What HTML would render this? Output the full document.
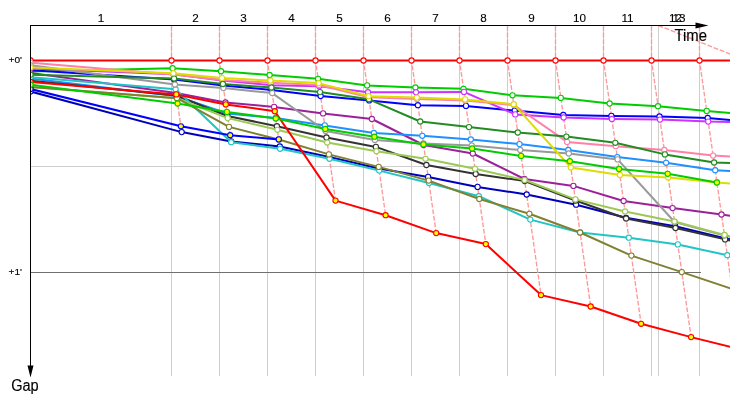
<!DOCTYPE html>
<html><head><meta charset="utf-8"><title>Gap chart</title>
<style>
html,body{margin:0;padding:0;background:#fff;}
svg{display:block}
text{font-family:"Liberation Sans",sans-serif;fill:#000}
</style></head><body>
<svg width="730" height="400" viewBox="0 0 730 400">
<rect width="730" height="400" fill="#fff"/>

<g stroke="#cfcfcf" stroke-width="1" shape-rendering="crispEdges">
<line x1="171.5" y1="26" x2="171.5" y2="376"/>
<line x1="219.5" y1="26" x2="219.5" y2="376"/>
<line x1="267.5" y1="26" x2="267.5" y2="376"/>
<line x1="315.5" y1="26" x2="315.5" y2="376"/>
<line x1="363.5" y1="26" x2="363.5" y2="376"/>
<line x1="411.5" y1="26" x2="411.5" y2="376"/>
<line x1="459.5" y1="26" x2="459.5" y2="376"/>
<line x1="507.5" y1="26" x2="507.5" y2="376"/>
<line x1="555.5" y1="26" x2="555.5" y2="376"/>
<line x1="603.5" y1="26" x2="603.5" y2="376"/>
<line x1="651.5" y1="26" x2="651.5" y2="376"/>
<line x1="699.5" y1="26" x2="699.5" y2="376"/>
<line x1="658.5" y1="26" x2="658.5" y2="376"/>
<line x1="31" y1="166.5" x2="701" y2="166.5"/>
</g>
<line x1="31" y1="272.5" x2="701" y2="272.5" stroke="#707070" stroke-width="1" shape-rendering="crispEdges"/>
<defs><clipPath id="c"><rect x="31" y="26" width="699" height="374"/></clipPath></defs>
<g clip-path="url(#c)" fill="none" stroke="#ff9898" stroke-width="1.35" stroke-dasharray="4.8 1.8">
<polyline points="171.5,26 171.5,60.5 181.7,132.1"/>
<polyline points="219.5,26 219.5,60.5 231.2,142.25"/>
<polyline points="267.5,26 267.5,60.5 280.1,148.75"/>
<polyline points="315.5,26 315.5,60.5 335.5,200.6"/>
<polyline points="363.5,26 363.5,60.5 385.6,215.25"/>
<polyline points="411.5,26 411.5,60.5 436.2,233.1"/>
<polyline points="459.5,26 459.5,60.5 485.8,244.1"/>
<polyline points="507.5,26 507.5,60.5 541.0,295.1"/>
<polyline points="555.5,26 555.5,60.5 590.7,306.5"/>
<polyline points="603.5,26 603.5,60.5 641.1,323.75"/>
<polyline points="651.5,26 651.5,60.5 691.1,337.1"/>
<polyline points="699.5,26 699.5,60.5 732.3,290"/>
<line x1="658.5" y1="25.5" x2="740" y2="58"/>
</g>
<g clip-path="url(#c)" stroke-linejoin="round" stroke-linecap="round">
<g stroke="#ff0000" fill="#fff">
<polyline fill="none" stroke-width="2" points="30.5,60.5 171.5,60.5 219.5,60.5 267.5,60.5 315.5,60.5 363.5,60.5 411.5,60.5 459.5,60.5 507.5,60.5 555.5,60.5 603.5,60.5 651.5,60.5 699.5,60.5 731.0,60.5"/>
<circle cx="30.5" cy="60.5" r="2.6" stroke-width="1.1"/>
<circle cx="171.5" cy="60.5" r="2.6" stroke-width="1.1"/>
<circle cx="219.5" cy="60.5" r="2.6" stroke-width="1.1"/>
<circle cx="267.5" cy="60.5" r="2.6" stroke-width="1.1"/>
<circle cx="315.5" cy="60.5" r="2.6" stroke-width="1.1"/>
<circle cx="363.5" cy="60.5" r="2.6" stroke-width="1.1"/>
<circle cx="411.5" cy="60.5" r="2.6" stroke-width="1.1"/>
<circle cx="459.5" cy="60.5" r="2.6" stroke-width="1.1"/>
<circle cx="507.5" cy="60.5" r="2.6" stroke-width="1.1"/>
<circle cx="555.5" cy="60.5" r="2.6" stroke-width="1.1"/>
<circle cx="603.5" cy="60.5" r="2.6" stroke-width="1.1"/>
<circle cx="651.5" cy="60.5" r="2.6" stroke-width="1.1"/>
<circle cx="699.5" cy="60.5" r="2.6" stroke-width="1.1"/>
</g>
<g stroke="#0000bb" fill="#fff">
<polyline fill="none" stroke-width="2" points="30.5,91.5 181.7,132.1 231.1,141.5 279.8,146.5 329.3,157.0 378.9,168.5 428.1,176.9 477.6,186.9 526.7,194.5 576.1,204.7 626.0,217.8 675.2,226.2 724.9,238.2 731.0,239.4"/>
<circle cx="30.5" cy="91.5" r="2.6" stroke-width="1.1"/>
<circle cx="181.7" cy="132.1" r="2.6" stroke-width="1.1"/>
<circle cx="231.1" cy="141.5" r="2.6" stroke-width="1.1"/>
<circle cx="279.8" cy="146.5" r="2.6" stroke-width="1.1"/>
<circle cx="329.3" cy="157.0" r="2.6" stroke-width="1.1"/>
<circle cx="378.9" cy="168.5" r="2.6" stroke-width="1.1"/>
<circle cx="428.1" cy="176.9" r="2.6" stroke-width="1.1"/>
<circle cx="477.6" cy="186.9" r="2.6" stroke-width="1.1"/>
<circle cx="526.7" cy="194.5" r="2.6" stroke-width="1.1"/>
<circle cx="576.1" cy="204.7" r="2.6" stroke-width="1.1"/>
<circle cx="626.0" cy="217.8" r="2.6" stroke-width="1.1"/>
<circle cx="675.2" cy="226.2" r="2.6" stroke-width="1.1"/>
<circle cx="724.9" cy="238.2" r="2.6" stroke-width="1.1"/>
</g>
<g stroke="#00cc00" fill="#fff">
<polyline fill="none" stroke-width="2" points="30.5,71.6 172.6,68.2 221.0,71.2 269.6,75.0 318.1,78.8 367.1,85.4 415.4,87.5 463.5,88.8 512.5,95.3 560.8,97.9 609.6,103.5 658.0,106.2 706.7,110.9 731.0,113.0"/>
<circle cx="30.5" cy="71.6" r="2.6" stroke-width="1.1"/>
<circle cx="172.6" cy="68.2" r="2.6" stroke-width="1.1"/>
<circle cx="221.0" cy="71.2" r="2.6" stroke-width="1.1"/>
<circle cx="269.6" cy="75.0" r="2.6" stroke-width="1.1"/>
<circle cx="318.1" cy="78.8" r="2.6" stroke-width="1.1"/>
<circle cx="367.1" cy="85.4" r="2.6" stroke-width="1.1"/>
<circle cx="415.4" cy="87.5" r="2.6" stroke-width="1.1"/>
<circle cx="463.5" cy="88.8" r="2.6" stroke-width="1.1"/>
<circle cx="512.5" cy="95.3" r="2.6" stroke-width="1.1"/>
<circle cx="560.8" cy="97.9" r="2.6" stroke-width="1.1"/>
<circle cx="609.6" cy="103.5" r="2.6" stroke-width="1.1"/>
<circle cx="658.0" cy="106.2" r="2.6" stroke-width="1.1"/>
<circle cx="706.7" cy="110.9" r="2.6" stroke-width="1.1"/>
</g>
<g stroke="#0000ff" fill="#fff">
<polyline fill="none" stroke-width="2" points="30.5,70.1 174.2,79.5 223.1,85.5 271.7,90.0 320.6,96.0 369.2,100.4 417.9,105.2 466.0,105.9 514.7,110.6 563.3,115.0 611.4,115.9 659.5,116.5 707.7,118.0 731.0,120.0"/>
<circle cx="30.5" cy="70.1" r="2.6" stroke-width="1.1"/>
<circle cx="174.2" cy="79.5" r="2.6" stroke-width="1.1"/>
<circle cx="223.1" cy="85.5" r="2.6" stroke-width="1.1"/>
<circle cx="271.7" cy="90.0" r="2.6" stroke-width="1.1"/>
<circle cx="320.6" cy="96.0" r="2.6" stroke-width="1.1"/>
<circle cx="369.2" cy="100.4" r="2.6" stroke-width="1.1"/>
<circle cx="417.9" cy="105.2" r="2.6" stroke-width="1.1"/>
<circle cx="466.0" cy="105.9" r="2.6" stroke-width="1.1"/>
<circle cx="514.7" cy="110.6" r="2.6" stroke-width="1.1"/>
<circle cx="563.3" cy="115.0" r="2.6" stroke-width="1.1"/>
<circle cx="611.4" cy="115.9" r="2.6" stroke-width="1.1"/>
<circle cx="659.5" cy="116.5" r="2.6" stroke-width="1.1"/>
<circle cx="707.7" cy="118.0" r="2.6" stroke-width="1.1"/>
</g>
<g stroke="#cc33ff" fill="#fff">
<polyline fill="none" stroke-width="2" points="30.5,68.6 173.5,74.3 222.3,80.4 271.0,85.3 319.2,86.3 368.0,92.2 416.0,92.3 464.0,91.9 515.2,114.4 563.7,117.5 611.9,119.0 660.0,119.6 708.2,121.6 731.0,122.0"/>
<circle cx="30.5" cy="68.6" r="2.6" stroke-width="1.1"/>
<circle cx="173.5" cy="74.3" r="2.6" stroke-width="1.1"/>
<circle cx="222.3" cy="80.4" r="2.6" stroke-width="1.1"/>
<circle cx="271.0" cy="85.3" r="2.6" stroke-width="1.1"/>
<circle cx="319.2" cy="86.3" r="2.6" stroke-width="1.1"/>
<circle cx="368.0" cy="92.2" r="2.6" stroke-width="1.1"/>
<circle cx="416.0" cy="92.3" r="2.6" stroke-width="1.1"/>
<circle cx="464.0" cy="91.9" r="2.6" stroke-width="1.1"/>
<circle cx="515.2" cy="114.4" r="2.6" stroke-width="1.1"/>
<circle cx="563.7" cy="117.5" r="2.6" stroke-width="1.1"/>
<circle cx="611.9" cy="119.0" r="2.6" stroke-width="1.1"/>
<circle cx="660.0" cy="119.6" r="2.6" stroke-width="1.1"/>
<circle cx="708.2" cy="121.6" r="2.6" stroke-width="1.1"/>
</g>
<g stroke="#ff80a8" fill="#fff">
<polyline fill="none" stroke-width="2" points="30.5,62.6 173.5,74.5 222.3,80.0 270.7,82.8 319.0,85.0 368.7,97.2 417.0,99.0 465.2,100.5 513.9,105.0 567.1,141.9 615.8,146.2 664.3,150.0 713.1,155.6 731.0,156.6"/>
<circle cx="30.5" cy="62.6" r="2.6" stroke-width="1.1"/>
<circle cx="173.5" cy="74.5" r="2.6" stroke-width="1.1"/>
<circle cx="222.3" cy="80.0" r="2.6" stroke-width="1.1"/>
<circle cx="270.7" cy="82.8" r="2.6" stroke-width="1.1"/>
<circle cx="319.0" cy="85.0" r="2.6" stroke-width="1.1"/>
<circle cx="368.7" cy="97.2" r="2.6" stroke-width="1.1"/>
<circle cx="417.0" cy="99.0" r="2.6" stroke-width="1.1"/>
<circle cx="465.2" cy="100.5" r="2.6" stroke-width="1.1"/>
<circle cx="513.9" cy="105.0" r="2.6" stroke-width="1.1"/>
<circle cx="567.1" cy="141.9" r="2.6" stroke-width="1.1"/>
<circle cx="615.8" cy="146.2" r="2.6" stroke-width="1.1"/>
<circle cx="664.3" cy="150.0" r="2.6" stroke-width="1.1"/>
<circle cx="713.1" cy="155.6" r="2.6" stroke-width="1.1"/>
</g>
<g stroke="#9b219b" fill="#fff">
<polyline fill="none" stroke-width="2" points="30.5,72.9 176.1,93.0 225.5,102.5 274.1,106.9 323.1,113.4 371.9,119.0 423.6,145.0 472.8,153.5 524.4,179.0 573.4,185.9 623.6,201.0 672.6,208.1 721.5,214.5 731.0,215.8"/>
<circle cx="30.5" cy="72.9" r="2.6" stroke-width="1.1"/>
<circle cx="176.1" cy="93.0" r="2.6" stroke-width="1.1"/>
<circle cx="225.5" cy="102.5" r="2.6" stroke-width="1.1"/>
<circle cx="274.1" cy="106.9" r="2.6" stroke-width="1.1"/>
<circle cx="323.1" cy="113.4" r="2.6" stroke-width="1.1"/>
<circle cx="371.9" cy="119.0" r="2.6" stroke-width="1.1"/>
<circle cx="423.6" cy="145.0" r="2.6" stroke-width="1.1"/>
<circle cx="472.8" cy="153.5" r="2.6" stroke-width="1.1"/>
<circle cx="524.4" cy="179.0" r="2.6" stroke-width="1.1"/>
<circle cx="573.4" cy="185.9" r="2.6" stroke-width="1.1"/>
<circle cx="623.6" cy="201.0" r="2.6" stroke-width="1.1"/>
<circle cx="672.6" cy="208.1" r="2.6" stroke-width="1.1"/>
<circle cx="721.5" cy="214.5" r="2.6" stroke-width="1.1"/>
</g>
<g stroke="#1e90ff" fill="#fff">
<polyline fill="none" stroke-width="2" points="30.5,78.5 176.6,96.2 227.1,113.5 275.7,118.0 324.8,125.4 373.9,133.0 422.3,135.8 470.8,139.5 519.5,144.1 568.3,150.0 617.3,157.1 666.1,162.8 715.2,170.2 731.0,171.0"/>
<circle cx="30.5" cy="78.5" r="2.6" stroke-width="1.1"/>
<circle cx="176.6" cy="96.2" r="2.6" stroke-width="1.1"/>
<circle cx="227.1" cy="113.5" r="2.6" stroke-width="1.1"/>
<circle cx="275.7" cy="118.0" r="2.6" stroke-width="1.1"/>
<circle cx="324.8" cy="125.4" r="2.6" stroke-width="1.1"/>
<circle cx="373.9" cy="133.0" r="2.6" stroke-width="1.1"/>
<circle cx="422.3" cy="135.8" r="2.6" stroke-width="1.1"/>
<circle cx="470.8" cy="139.5" r="2.6" stroke-width="1.1"/>
<circle cx="519.5" cy="144.1" r="2.6" stroke-width="1.1"/>
<circle cx="568.3" cy="150.0" r="2.6" stroke-width="1.1"/>
<circle cx="617.3" cy="157.1" r="2.6" stroke-width="1.1"/>
<circle cx="666.1" cy="162.8" r="2.6" stroke-width="1.1"/>
<circle cx="715.2" cy="170.2" r="2.6" stroke-width="1.1"/>
</g>
<g stroke="#333333" fill="#fff">
<polyline fill="none" stroke-width="2" points="30.5,80.6 176.5,95.5 227.4,116.0 276.9,126.2 326.5,137.5 375.9,146.9 426.4,165.0 475.7,174.0 524.7,181.0 575.5,200.5 626.1,218.5 675.5,228.0 725.1,239.4 731.0,240.6"/>
<circle cx="30.5" cy="80.6" r="2.6" stroke-width="1.1"/>
<circle cx="176.5" cy="95.5" r="2.6" stroke-width="1.1"/>
<circle cx="227.4" cy="116.0" r="2.6" stroke-width="1.1"/>
<circle cx="276.9" cy="126.2" r="2.6" stroke-width="1.1"/>
<circle cx="326.5" cy="137.5" r="2.6" stroke-width="1.1"/>
<circle cx="375.9" cy="146.9" r="2.6" stroke-width="1.1"/>
<circle cx="426.4" cy="165.0" r="2.6" stroke-width="1.1"/>
<circle cx="475.7" cy="174.0" r="2.6" stroke-width="1.1"/>
<circle cx="524.7" cy="181.0" r="2.6" stroke-width="1.1"/>
<circle cx="575.5" cy="200.5" r="2.6" stroke-width="1.1"/>
<circle cx="626.1" cy="218.5" r="2.6" stroke-width="1.1"/>
<circle cx="675.5" cy="228.0" r="2.6" stroke-width="1.1"/>
<circle cx="725.1" cy="239.4" r="2.6" stroke-width="1.1"/>
</g>
<g stroke="#22c4c4" fill="#fff">
<polyline fill="none" stroke-width="2" points="30.5,77.2 175.6,89.2 231.2,142.2 280.1,148.8 329.5,158.8 379.2,170.6 429.0,183.0 478.9,196.2 530.3,219.6 580.1,232.5 628.8,237.7 677.8,244.4 727.3,255.2 731.0,256.0"/>
<circle cx="30.5" cy="77.2" r="2.6" stroke-width="1.1"/>
<circle cx="175.6" cy="89.2" r="2.6" stroke-width="1.1"/>
<circle cx="231.2" cy="142.2" r="2.6" stroke-width="1.1"/>
<circle cx="280.1" cy="148.8" r="2.6" stroke-width="1.1"/>
<circle cx="329.5" cy="158.8" r="2.6" stroke-width="1.1"/>
<circle cx="379.2" cy="170.6" r="2.6" stroke-width="1.1"/>
<circle cx="429.0" cy="183.0" r="2.6" stroke-width="1.1"/>
<circle cx="478.9" cy="196.2" r="2.6" stroke-width="1.1"/>
<circle cx="530.3" cy="219.6" r="2.6" stroke-width="1.1"/>
<circle cx="580.1" cy="232.5" r="2.6" stroke-width="1.1"/>
<circle cx="628.8" cy="237.7" r="2.6" stroke-width="1.1"/>
<circle cx="677.8" cy="244.4" r="2.6" stroke-width="1.1"/>
<circle cx="727.3" cy="255.2" r="2.6" stroke-width="1.1"/>
</g>
<g stroke="#999999" fill="#fff">
<polyline fill="none" stroke-width="2" points="30.5,65.3 174.9,84.5 223.4,88.1 272.2,93.1 325.6,131.0 374.9,140.0 423.4,143.5 471.7,145.6 520.3,150.0 568.8,153.5 617.6,159.4 674.6,222.0 724.5,235.5 731.0,237.0"/>
<circle cx="30.5" cy="65.3" r="2.6" stroke-width="1.1"/>
<circle cx="174.9" cy="84.5" r="2.6" stroke-width="1.1"/>
<circle cx="223.4" cy="88.1" r="2.6" stroke-width="1.1"/>
<circle cx="272.2" cy="93.1" r="2.6" stroke-width="1.1"/>
<circle cx="325.6" cy="131.0" r="2.6" stroke-width="1.1"/>
<circle cx="374.9" cy="140.0" r="2.6" stroke-width="1.1"/>
<circle cx="423.4" cy="143.5" r="2.6" stroke-width="1.1"/>
<circle cx="471.7" cy="145.6" r="2.6" stroke-width="1.1"/>
<circle cx="520.3" cy="150.0" r="2.6" stroke-width="1.1"/>
<circle cx="568.8" cy="153.5" r="2.6" stroke-width="1.1"/>
<circle cx="617.6" cy="159.4" r="2.6" stroke-width="1.1"/>
<circle cx="674.6" cy="222.0" r="2.6" stroke-width="1.1"/>
<circle cx="724.5" cy="235.5" r="2.6" stroke-width="1.1"/>
</g>
<g stroke="#228b22" fill="#fff">
<polyline fill="none" stroke-width="2" points="30.5,74.7 174.1,78.5 222.9,84.0 271.4,87.5 320.0,92.1 369.0,99.3 420.2,121.5 469.0,127.1 517.8,132.5 566.4,136.6 615.3,142.8 664.9,154.4 714.1,162.5 731.0,163.0"/>
<circle cx="30.5" cy="74.7" r="2.6" stroke-width="1.1"/>
<circle cx="174.1" cy="78.5" r="2.6" stroke-width="1.1"/>
<circle cx="222.9" cy="84.0" r="2.6" stroke-width="1.1"/>
<circle cx="271.4" cy="87.5" r="2.6" stroke-width="1.1"/>
<circle cx="320.0" cy="92.1" r="2.6" stroke-width="1.1"/>
<circle cx="369.0" cy="99.3" r="2.6" stroke-width="1.1"/>
<circle cx="420.2" cy="121.5" r="2.6" stroke-width="1.1"/>
<circle cx="469.0" cy="127.1" r="2.6" stroke-width="1.1"/>
<circle cx="517.8" cy="132.5" r="2.6" stroke-width="1.1"/>
<circle cx="566.4" cy="136.6" r="2.6" stroke-width="1.1"/>
<circle cx="615.3" cy="142.8" r="2.6" stroke-width="1.1"/>
<circle cx="664.9" cy="154.4" r="2.6" stroke-width="1.1"/>
<circle cx="714.1" cy="162.5" r="2.6" stroke-width="1.1"/>
</g>
<g stroke="#dddd00" fill="#fff">
<polyline fill="none" stroke-width="2" points="30.5,67.5 173.3,73.2 222.0,78.1 270.4,80.6 318.7,83.1 368.6,96.2 416.8,97.6 465.1,99.4 513.7,104.2 570.8,167.5 619.9,175.0 668.2,177.5 716.9,182.5 731.0,183.7"/>
<circle cx="30.5" cy="67.5" r="2.6" stroke-width="1.1"/>
<circle cx="173.3" cy="73.2" r="2.6" stroke-width="1.1"/>
<circle cx="222.0" cy="78.1" r="2.6" stroke-width="1.1"/>
<circle cx="270.4" cy="80.6" r="2.6" stroke-width="1.1"/>
<circle cx="318.7" cy="83.1" r="2.6" stroke-width="1.1"/>
<circle cx="368.6" cy="96.2" r="2.6" stroke-width="1.1"/>
<circle cx="416.8" cy="97.6" r="2.6" stroke-width="1.1"/>
<circle cx="465.1" cy="99.4" r="2.6" stroke-width="1.1"/>
<circle cx="513.7" cy="104.2" r="2.6" stroke-width="1.1"/>
<circle cx="570.8" cy="167.5" r="2.6" stroke-width="1.1"/>
<circle cx="619.9" cy="175.0" r="2.6" stroke-width="1.1"/>
<circle cx="668.2" cy="177.5" r="2.6" stroke-width="1.1"/>
<circle cx="716.9" cy="182.5" r="2.6" stroke-width="1.1"/>
</g>
<g stroke="#9cc955" fill="#fff">
<polyline fill="none" stroke-width="2" points="30.5,87.0 176.9,98.2 227.7,118.1 277.4,129.8 327.2,142.5 376.5,151.2 425.5,158.8 475.0,168.8 524.6,180.0 575.4,199.4 625.1,211.5 674.5,221.5 724.5,235.0 731.0,236.4"/>
<circle cx="30.5" cy="87.0" r="2.6" stroke-width="1.1"/>
<circle cx="176.9" cy="98.2" r="2.6" stroke-width="1.1"/>
<circle cx="227.7" cy="118.1" r="2.6" stroke-width="1.1"/>
<circle cx="277.4" cy="129.8" r="2.6" stroke-width="1.1"/>
<circle cx="327.2" cy="142.5" r="2.6" stroke-width="1.1"/>
<circle cx="376.5" cy="151.2" r="2.6" stroke-width="1.1"/>
<circle cx="425.5" cy="158.8" r="2.6" stroke-width="1.1"/>
<circle cx="475.0" cy="168.8" r="2.6" stroke-width="1.1"/>
<circle cx="524.6" cy="180.0" r="2.6" stroke-width="1.1"/>
<circle cx="575.4" cy="199.4" r="2.6" stroke-width="1.1"/>
<circle cx="625.1" cy="211.5" r="2.6" stroke-width="1.1"/>
<circle cx="674.5" cy="221.5" r="2.6" stroke-width="1.1"/>
<circle cx="724.5" cy="235.0" r="2.6" stroke-width="1.1"/>
</g>
<g stroke="#808030" fill="#fff">
<polyline fill="none" stroke-width="2" points="30.5,87.0 176.9,98.2 229.0,126.9 278.8,139.5 328.9,154.4 378.7,166.9 428.7,180.6 479.3,199.0 529.4,213.8 580.1,232.5 631.4,255.6 681.8,272.1 731.0,288.6"/>
<circle cx="30.5" cy="87.0" r="2.6" stroke-width="1.1"/>
<circle cx="176.9" cy="98.2" r="2.6" stroke-width="1.1"/>
<circle cx="229.0" cy="126.9" r="2.6" stroke-width="1.1"/>
<circle cx="278.8" cy="139.5" r="2.6" stroke-width="1.1"/>
<circle cx="328.9" cy="154.4" r="2.6" stroke-width="1.1"/>
<circle cx="378.7" cy="166.9" r="2.6" stroke-width="1.1"/>
<circle cx="428.7" cy="180.6" r="2.6" stroke-width="1.1"/>
<circle cx="479.3" cy="199.0" r="2.6" stroke-width="1.1"/>
<circle cx="529.4" cy="213.8" r="2.6" stroke-width="1.1"/>
<circle cx="580.1" cy="232.5" r="2.6" stroke-width="1.1"/>
<circle cx="631.4" cy="255.6" r="2.6" stroke-width="1.1"/>
<circle cx="681.8" cy="272.1" r="2.6" stroke-width="1.1"/>
</g>
<g stroke="#0000ff" fill="#ffff00">
<polyline fill="none" stroke-width="2" points="30.5,89.0 180.9,126.3 230.2,135.2 278.8,139.4"/>
<circle cx="30.5" cy="89.0" r="2.6" stroke-width="1.1"/>
<circle cx="180.9" cy="126.3" r="2.6" stroke-width="1.1"/>
<circle cx="230.2" cy="135.2" r="2.6" stroke-width="1.1"/>
<circle cx="278.8" cy="139.4" r="2.6" stroke-width="1.1"/>
</g>
<g stroke="#ff0000" fill="#ffff00">
<polyline fill="none" stroke-width="2" points="30.5,82.0 176.3,94.4 225.8,104.4 274.8,111.2 335.5,200.6 385.6,215.2 436.2,233.1 485.8,244.1 541.0,295.1 590.7,306.5 641.1,323.8 691.1,337.1 731.0,347.0"/>
<circle cx="30.5" cy="82.0" r="2.6" stroke-width="1.1"/>
<circle cx="176.3" cy="94.4" r="2.6" stroke-width="1.1"/>
<circle cx="225.8" cy="104.4" r="2.6" stroke-width="1.1"/>
<circle cx="274.8" cy="111.2" r="2.6" stroke-width="1.1"/>
<circle cx="335.5" cy="200.6" r="2.6" stroke-width="1.1"/>
<circle cx="385.6" cy="215.2" r="2.6" stroke-width="1.1"/>
<circle cx="436.2" cy="233.1" r="2.6" stroke-width="1.1"/>
<circle cx="485.8" cy="244.1" r="2.6" stroke-width="1.1"/>
<circle cx="541.0" cy="295.1" r="2.6" stroke-width="1.1"/>
<circle cx="590.7" cy="306.5" r="2.6" stroke-width="1.1"/>
<circle cx="641.1" cy="323.8" r="2.6" stroke-width="1.1"/>
<circle cx="691.1" cy="337.1" r="2.6" stroke-width="1.1"/>
</g>
<g stroke="#00cc00" fill="#ffff00">
<polyline fill="none" stroke-width="2" points="30.5,84.7 177.6,103.5 226.9,111.9 275.8,118.5 325.3,129.0 374.4,136.7 423.5,144.4 472.1,148.5 521.1,155.9 569.9,161.2 619.0,169.0 667.7,173.8 716.9,182.5"/>
<circle cx="30.5" cy="84.7" r="2.6" stroke-width="1.1"/>
<circle cx="177.6" cy="103.5" r="2.6" stroke-width="1.1"/>
<circle cx="226.9" cy="111.9" r="2.6" stroke-width="1.1"/>
<circle cx="275.8" cy="118.5" r="2.6" stroke-width="1.1"/>
<circle cx="325.3" cy="129.0" r="2.6" stroke-width="1.1"/>
<circle cx="374.4" cy="136.7" r="2.6" stroke-width="1.1"/>
<circle cx="423.5" cy="144.4" r="2.6" stroke-width="1.1"/>
<circle cx="472.1" cy="148.5" r="2.6" stroke-width="1.1"/>
<circle cx="521.1" cy="155.9" r="2.6" stroke-width="1.1"/>
<circle cx="569.9" cy="161.2" r="2.6" stroke-width="1.1"/>
<circle cx="619.0" cy="169.0" r="2.6" stroke-width="1.1"/>
<circle cx="667.7" cy="173.8" r="2.6" stroke-width="1.1"/>
<circle cx="716.9" cy="182.5" r="2.6" stroke-width="1.1"/>
</g>
</g>
<g stroke="#000" stroke-width="1" shape-rendering="crispEdges"><line x1="30" y1="25.5" x2="700" y2="25.5"/><line x1="30.5" y1="25" x2="30.5" y2="368"/></g>
<polygon points="695.5,22.5 708.5,25.5 695.5,28.5" fill="#000"/>
<polygon points="27.5,365.5 33.5,365.5 30.5,377.5" fill="#000"/>
<g font-size="11.7" text-anchor="middle" stroke="#000" stroke-width="0.12">
<text x="101" y="22">1</text>
<text x="195.5" y="22">2</text>
<text x="243.5" y="22">3</text>
<text x="291.5" y="22">4</text>
<text x="339.5" y="22">5</text>
<text x="387.5" y="22">6</text>
<text x="435.5" y="22">7</text>
<text x="483.5" y="22">8</text>
<text x="531.5" y="22">9</text>
<text x="579.5" y="22">10</text>
<text x="627.5" y="22">11</text>
<text x="675.5" y="22">12</text>
<text x="679" y="22">13</text>
</g>
<text x="674.5" y="40.7" font-size="16" stroke="#000" stroke-width="0.15" textLength="32.5" lengthAdjust="spacingAndGlyphs">Time</text>
<text x="11.2" y="390.7" font-size="16" stroke="#000" stroke-width="0.15" textLength="27.5" lengthAdjust="spacingAndGlyphs">Gap</text>
<text x="8.5" y="62.8" font-size="9.5" stroke="#000" stroke-width="0.15" textLength="13.5" lengthAdjust="spacingAndGlyphs">+0'</text>
<text x="8.5" y="274.8" font-size="9.5" stroke="#000" stroke-width="0.15" textLength="13.5" lengthAdjust="spacingAndGlyphs">+1'</text>
</svg></body></html>
